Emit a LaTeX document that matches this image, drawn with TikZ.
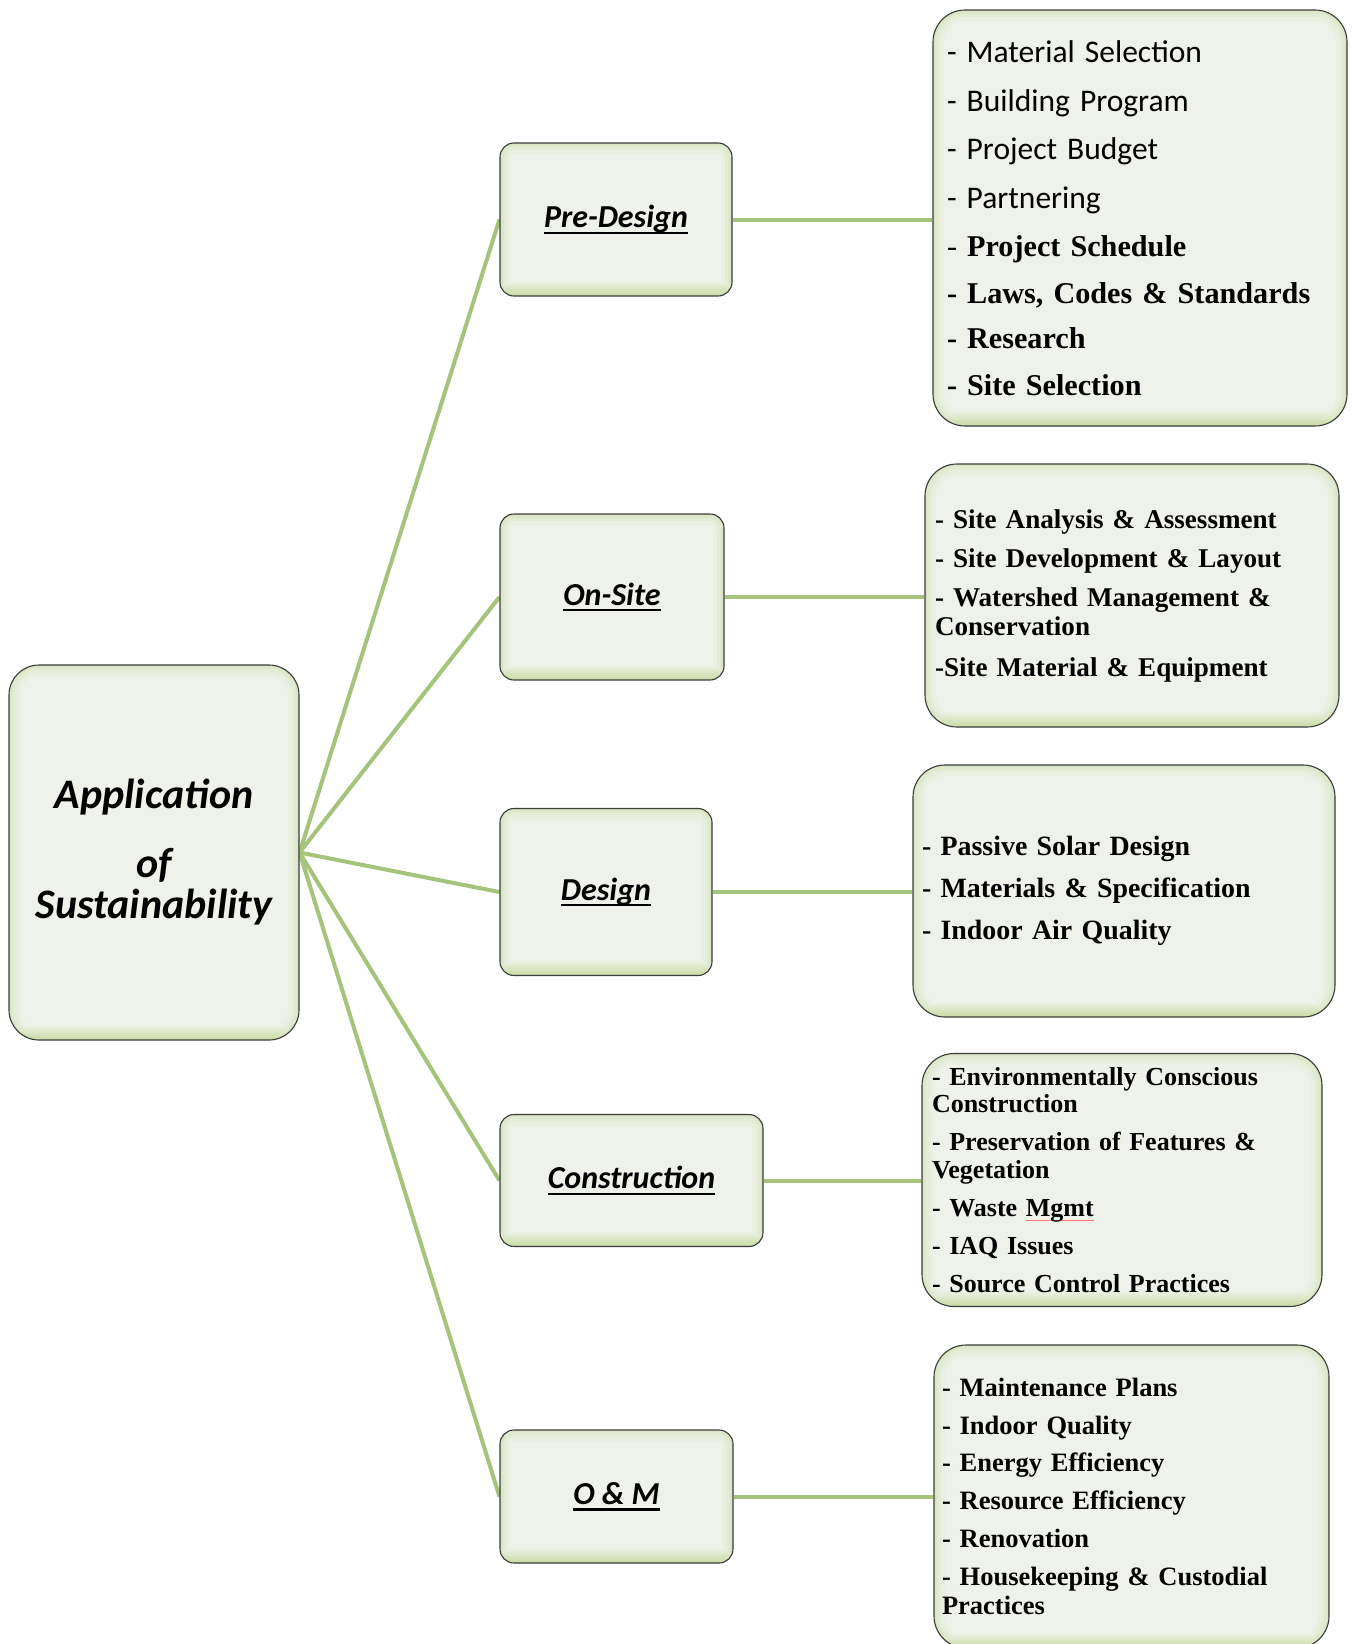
\documentclass[tikz,border=0pt]{standalone}
\usepackage{fontspec}
\setmainfont{Liberation Serif}
\newfontfamily\calibri{Carlito}
\usetikzlibrary{backgrounds}

\definecolor{linkgreen}{HTML}{A5C37A}
\definecolor{boxfill}{HTML}{EFF2EA}
\definecolor{glow}{HTML}{C6DB9E}
\definecolor{edge}{HTML}{3C3C3C}

% underlined phase label: rule sits at a fixed depth below the baseline
\newsavebox\lblbox
\newcommand\ulabel[1]{\sbox\lblbox{#1}\rlap{\rule[-6pt]{\wd\lblbox}{2.2pt}}\usebox\lblbox}
% thin reddish proofing mark under a word
\newcommand\spellmark[1]{\sbox\lblbox{#1}\rlap{\textcolor{red!55}{\rule[-4pt]{\wd\lblbox}{0.7pt}}}\usebox\lblbox}

% soft inner green glow of the rounded cards
\newcommand\cardglow[1]{%
  \foreach \w/\o in {22/0.10,14/0.14,8/0.18,3/0.25}{%
    \draw[glow, line width=\w pt, opacity=\o, rounded corners=#1]
      (path picture bounding box.south west) rectangle (path picture bounding box.north east);}%
  \shade[bottom color=glow, top color=boxfill, opacity=.9]
    (path picture bounding box.south west) rectangle ([yshift=16pt]path picture bounding box.south east);%
}

\tikzset{
  card/.style={draw=edge, line width=1.1pt, fill=boxfill, rounded corners=#1,
    inner sep=0pt, path picture={\cardglow{#1}}},
  phase/.style={card=14pt, font=\calibri\bfseries\itshape\fontsize{32}{38}\selectfont},
  listbox/.style={card=32pt, align=left},
  link/.style={draw=linkgreen, line width=4pt},
}

\begin{document}
\begin{tikzpicture}[x=1pt, y=-1pt]
\useasboundingbox (0,0) rectangle (1352,1644);
\clip (0,0) rectangle (1352,1644);

% root
\node[card=30pt, minimum width=290pt, minimum height=375pt, align=center,
      font=\calibri\bfseries\itshape\fontsize{42}{41}\selectfont]
  (root) at (154,852.5) {Application\\[28pt]of\\Sustainability};

% phases
\node[phase, minimum width=232pt, minimum height=153pt] (pre)    at (616,219.5)  {\ulabel{Pre-Design}};
\node[phase, minimum width=224pt, minimum height=166pt] (onsite) at (612,597)    {\ulabel{On-Site}};
\node[phase, minimum width=212pt, minimum height=167pt] (design) at (606,892)    {\ulabel{Design}};
\node[phase, minimum width=263pt, minimum height=132pt] (constr) at (631.5,1180.5) {\ulabel{Construction}};
\node[phase, minimum width=233pt, minimum height=133pt] (om)     at (616.5,1496.5) {\ulabel{O \& M}};

% detail lists
\node[listbox, minimum width=414pt, minimum height=416pt, text width=386pt, inner xsep=14pt,
      font=\bfseries\fontsize{30.2}{48.5}\selectfont] (r1) at (1140,218)
  {{\calibri\mdseries\fontsize{31.5}{48.5}\selectfont - Material Selection}\\
   {\calibri\mdseries\fontsize{31.5}{48.5}\selectfont - Building Program}\\
   {\calibri\mdseries\fontsize{31.5}{48.5}\selectfont - Project Budget}\\
   {\calibri\mdseries\fontsize{31.5}{48.5}\selectfont - Partnering}\\
   {\mdseries -} Project Schedule\\[-2pt]
   - Laws, Codes \& Standards\\[-3pt]
   - Research\\[-2pt]
   - Site Selection};

\node[listbox, minimum width=414pt, minimum height=263pt, text width=394pt, inner xsep=10pt,
      font=\bfseries\fontsize{27.1}{29.5}\selectfont] (r2) at (1132,595.5)
  {- Site Analysis \& Assessment\\[9.5pt]
   - Site Development \& Layout\\[9.5pt]
   - Watershed Management \&\\
   Conservation\\[11pt]
   -Site Material \& Equipment};

\node[listbox, minimum width=422pt, minimum height=252pt, text width=404pt, inner xsep=9pt,
      font=\bfseries\fontsize{27.9}{42}\selectfont] (r3) at (1124,891)
  {- Passive Solar Design\\
   - Materials \& Specification\\
   - Indoor Air Quality};

\node[listbox, minimum width=400pt, minimum height=253pt, text width=380pt, inner xsep=10pt,
      font=\bfseries\fontsize{26}{27.5}\selectfont] (r4) at (1122,1180)
  {- Environmentally Conscious\\
   Construction\\[10.5pt]
   - Preservation of Features \&\\
   Vegetation\\[10.5pt]
   - Waste \spellmark{Mgmt}\\[10.5pt]
   - IAQ Issues\\[10.5pt]
   - Source Control Practices};

\node[listbox, minimum width=395pt, minimum height=303pt, text width=379pt, inner xsep=8pt,
      font=\bfseries\fontsize{26.5}{29.5}\selectfont] (r5) at (1131.5,1496.5)
  {- Maintenance Plans\\[8.2pt]
   - Indoor Quality\\[8.2pt]
   - Energy Efficiency\\[8.2pt]
   - Resource Efficiency\\[8.2pt]
   - Renovation\\[8.2pt]
   - Housekeeping \& Custodial\\
   Practices};

% connectors
\begin{scope}[on background layer]
  \fill[white] (0,0) rectangle (1352,1644);
  \draw[link] (root.east) -- (pre.west);
  \draw[link] (root.east) -- (onsite.west);
  \draw[link] (root.east) -- (design.west);
  \draw[link] (root.east) -- (constr.west);
  \draw[link] (root.east) -- (om.west);
  \draw[link] (pre.east)    -- (pre.east -| r1.west);
  \draw[link] (onsite.east) -- (onsite.east -| r2.west);
  \draw[link] (design.east) -- (design.east -| r3.west);
  \draw[link] (constr.east) -- (constr.east -| r4.west);
  \draw[link] (om.east)     -- (om.east -| r5.west);
\end{scope}
\end{tikzpicture}
\end{document}
